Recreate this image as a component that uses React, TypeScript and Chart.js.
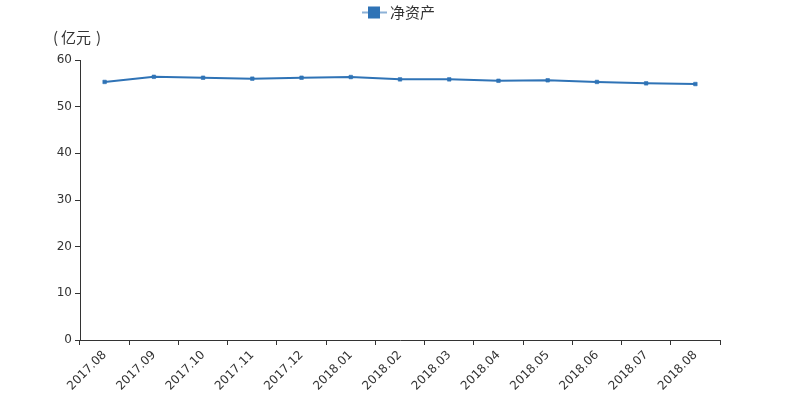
import React, { useEffect, useRef } from 'react';
import { Chart, registerables } from 'chart.js';

Chart.register(...registerables);

const months = [
  '2017.08', '2017.09', '2017.10', '2017.11', '2017.12', '2018.01', '2018.02',
  '2018.03', '2018.04', '2018.05', '2018.06', '2018.07', '2018.08',
];
const netAssets = [55.3, 56.4, 56.2, 56.0, 56.2, 56.35, 55.85, 55.85, 55.55, 55.65, 55.3, 55.0, 54.85];
const seriesName = '净资产';
const unitLabel = '亿元';

const FONT = '"DejaVu Sans", "Noto Sans CJK SC", sans-serif';
const CJK = '"Noto Sans CJK SC", sans-serif';
const BLUE = '#2f73b6';

// legend + unit label drawn by hand
const extrasPlugin = {
  id: 'extras',
  afterDraw(chart: Chart) {
    const ctx = chart.ctx;
    const area = chart.chartArea;
    ctx.save();
    // legend
    const cx = 400;
    const ly = 12.5;
    ctx.strokeStyle = 'rgba(47,115,182,0.55)';
    ctx.lineWidth = 2;
    ctx.beginPath();
    ctx.moveTo(cx - 38, ly);
    ctx.lineTo(cx - 13, ly);
    ctx.stroke();
    ctx.fillStyle = BLUE;
    ctx.fillRect(cx - 32, ly - 6, 12, 12);
    ctx.fillStyle = '#333';
    ctx.font = `15px ${CJK}`;
    ctx.textBaseline = 'middle';
    ctx.textAlign = 'left';
    ctx.fillText(seriesName, cx - 10, ly);
    // unit, full-width brackets spaced like the original
    const ux = area.left - 26;
    ctx.font = `15px ${CJK}`;
    ctx.fillText('(', ux - 1, 37);
    ctx.fillText(unitLabel, ux + 7, 37);
    ctx.fillText(')', ux + 42, 37);
    ctx.restore();
  },
};

const App: React.FC = () => {
  const canvasRef = useRef<HTMLCanvasElement>(null);
  const chartRef = useRef<Chart | null>(null);

  useEffect(() => {
    document.body.style.margin = '0';
    if (!canvasRef.current) return;
    if (chartRef.current) chartRef.current.destroy();

    chartRef.current = new Chart(canvasRef.current, {
      type: 'line',
      data: {
        labels: months,
        datasets: [
          {
            label: seriesName,
            data: netAssets,
            borderColor: BLUE,
            backgroundColor: BLUE,
            borderWidth: 2,
            pointStyle: 'rect',
            pointRadius: 2.5,
            pointBorderWidth: 1,
            pointBorderColor: 'rgba(47,115,182,0.6)',
            tension: 0,
          },
        ],
      },
      options: {
        animation: false,
        responsive: false,
        layout: { padding: { top: 60, right: 80, bottom: 0, left: 0 } },
        plugins: {
          legend: { display: false },
          tooltip: { enabled: false },
        },
        scales: {
          x: {
            type: 'category',
            offset: true,
            grid: {
              offset: true,
              drawOnChartArea: false,
              drawTicks: true,
              tickLength: 5,
              color: '#333',
            },
            border: { color: '#333', width: 1 },
            ticks: {
              color: '#333',
              font: { family: FONT, size: 12 },
              maxRotation: 45,
              minRotation: 45,
              autoSkip: false,
              padding: 3,
            },
            afterFit(scale: any) {
              scale.height = 60;
            },
          },
          y: {
            min: 0,
            max: 60,
            ticks: {
              stepSize: 10,
              color: '#333',
              font: { family: FONT, size: 12 },
              padding: 3,
            },
            grid: {
              drawOnChartArea: false,
              drawTicks: true,
              tickLength: 5,
              color: '#333',
            },
            border: { color: '#333', width: 1 },
            afterFit(scale: any) {
              scale.width = 80;
            },
          },
        },
      },
      plugins: [extrasPlugin],
    });

    return () => {
      if (chartRef.current) {
        chartRef.current.destroy();
        chartRef.current = null;
      }
    };
  }, []);

  return (
    <div style={{ width: 800, height: 400, background: '#fff' }}>
      <canvas ref={canvasRef} width={800} height={400}></canvas>
    </div>
  );
};

export default App;
